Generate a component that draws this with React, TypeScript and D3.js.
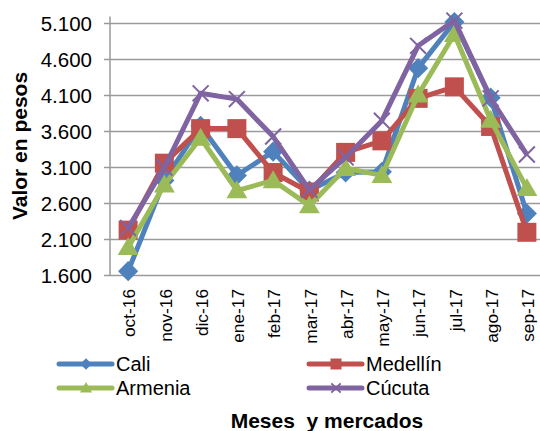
import React from "react";
import * as d3 from "d3";

const months = ["oct-16","nov-16","dic-16","ene-17","feb-17","mar-17","abr-17","may-17","jun-17","jul-17","ago-17","sep-17"];
const cali = [1660, 2920, 3680, 2990, 3320, 2780, 3030, 3040, 4480, 5120, 4070, 2460];
const medellin = [2230, 3160, 3640, 3640, 3030, 2760, 3310, 3470, 4060, 4220, 3670, 2200];
const armenia = [1990, 2860, 3510, 2780, 2920, 2570, 3090, 2990, 4110, 4950, 3760, 2810];
const cucuta = [2260, 3100, 4130, 4050, 3530, 2790, 3240, 3750, 4790, 5140, 4060, 3280];
const yTicks = [1600, 2100, 2600, 3100, 3600, 4100, 4600, 5100];

const seriesNames = ["Cali", "Medellín", "Armenia", "Cúcuta"];
const seriesColors = ["#4F81BD", "#C0504D", "#9BBB59", "#8064A2"];
const seriesMarkers = ["diamond", "square", "triangle", "x"];
const seriesValues = [cali, medellin, armenia, cucuta];

const fmt = d3.formatLocale({ decimal: ",", thousands: ".", grouping: [3], currency: ["$", ""] }).format(",d");

function Marker({ kind, x, y, color, s }: { kind: string; x: number; y: number; color: string; s: number }) {
  if (kind === "diamond") {
    const r = s * 0.53;
    return <path d={`M${x},${y - r}L${x + r},${y}L${x},${y + r}L${x - r},${y}Z`} fill={color} />;
  }
  if (kind === "square") {
    const r = s * 0.5;
    return <rect x={x - r} y={y - r} width={2 * r} height={2 * r} fill={color} />;
  }
  if (kind === "triangle") {
    const w = s * 0.55;
    const h = s * 0.9;
    return <path d={`M${x},${y - h * 0.6}L${x + w},${y + h * 0.45}L${x - w},${y + h * 0.45}Z`} fill={color} />;
  }
  const r = s * 0.42;
  return (
    <path d={`M${x - r},${y - r}L${x + r},${y + r}M${x - r},${y + r}L${x + r},${y - r}`} stroke={color} strokeWidth={2} fill="none" />
  );
}

export default function App() {
  const W = 540, H = 431;
  const left = 110, right = 545, top = 23.5, bottom = 275.5;
  const x = d3.scaleBand<string>().domain(months).range([left, right]);
  const y = d3.scaleLinear().domain([1600, 5100]).range([bottom, top]);
  const cx = (m: string) => (x(m) as number) + x.bandwidth() / 2;
  const line = d3.line<number>().x((_, i) => cx(months[i])).y((v) => y(v));
  const font = "Liberation Sans, Arial, sans-serif";

  const legendPos = [
    { lx: 59, ly: 364 },
    { lx: 309, ly: 364 },
    { lx: 59, ly: 388 },
    { lx: 309, ly: 388 },
  ];

  return (
    <svg width={W} height={H} style={{ position: "absolute", left: 0, top: 0, background: "#fff" }} fontFamily={font}>
      {yTicks.map((t) => (
        <line key={t} x1={left - 6} x2={W} y1={y(t)} y2={y(t)} stroke="#9a9a9a" strokeWidth={1.5} />
      ))}
      <line x1={left} x2={left} y1={top - 7} y2={bottom} stroke="#9a9a9a" strokeWidth={1.5} />
      {yTicks.map((t) => (
        <text key={t} x={92} y={y(t)} dy="0.36em" textAnchor="end" fontSize={20.5} fill="#000">
          {fmt(t)}
        </text>
      ))}
      {months.map((m) => (
        <text key={m} transform={`translate(${cx(m) + 1},289) rotate(-90)`} textAnchor="end" dy="0.36em" fontSize={17.3} fill="#000">
          {m}
        </text>
      ))}
      {seriesValues.map((vals, si) => (
        <g key={si}>
          <path d={line(vals) || ""} fill="none" stroke={seriesColors[si]} strokeWidth={5} strokeLinejoin="round" />
          {vals.map((v, i) => (
            <Marker key={i} kind={seriesMarkers[si]} x={cx(months[i])} y={y(v)} color={seriesColors[si]} s={19} />
          ))}
        </g>
      ))}
      <text transform={`translate(27,146) rotate(-90)`} textAnchor="middle" fontSize={21} fontWeight="bold" fill="#000">
        Valor en pesos
      </text>
      {seriesNames.map((n, si) => {
        const { lx, ly } = legendPos[si];
        return (
          <g key={n}>
            <line x1={lx} x2={lx + 53} y1={ly} y2={ly} stroke={seriesColors[si]} strokeWidth={5} strokeLinecap="round" />
            <Marker kind={seriesMarkers[si]} x={lx + 27} y={ly} color={seriesColors[si]} s={11} />
            <text x={lx + 57} y={ly} dy="0.36em" fontSize={20} fill="#000">
              {n}
            </text>
          </g>
        );
      })}
      <text x={327} y={428} textAnchor="middle" fontSize={21} fontWeight="bold" fill="#000" style={{ whiteSpace: "pre" }}>
        {"Meses  y mercados"}
      </text>
    </svg>
  );
}
